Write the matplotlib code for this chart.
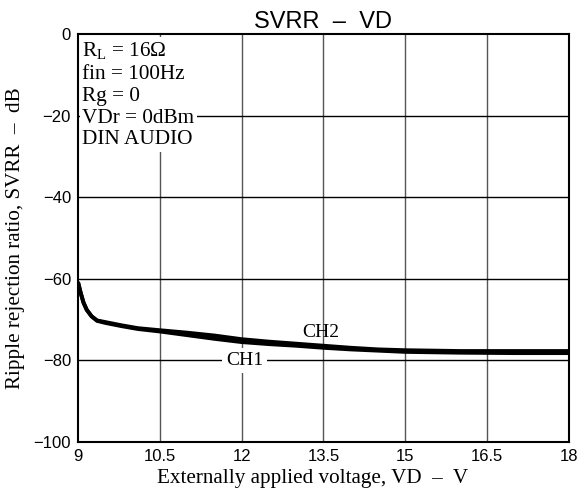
import matplotlib
matplotlib.use("Agg")
import matplotlib.pyplot as plt

# supply voltage VD (V) and ripple rejection (dB)
vd = [9.0, 9.05, 9.1, 9.16, 9.25, 9.35, 9.5, 9.8, 10.1, 10.5, 11.0, 11.5, 12.0, 12.5,
      13.0, 13.5, 14.0, 14.5, 15.0, 15.5, 16.0, 17.0, 18.0]
ch1 = [-60.8, -63.5, -65.8, -67.6, -69.2, -70.3, -70.8, -71.6, -72.3, -72.9, -73.8, -74.7,
       -75.5, -76.0, -76.4, -76.9, -77.3, -77.6, -77.9, -78.0, -78.1, -78.2, -78.2]
ch2 = [-60.8, -63.5, -65.8, -67.6, -69.2, -70.2, -70.6, -71.4, -72.1, -72.6, -73.2, -73.9,
       -74.8, -75.4, -75.9, -76.4, -76.9, -77.3, -77.5, -77.6, -77.7, -77.7, -77.7]

xticks = [9, 10.5, 12, 13.5, 15, 16.5, 18]
yticks = [0, -20, -40, -60, -80, -100]

serif = ["Liberation Serif", "DejaVu Serif"]
sans = ["Liberation Sans", "DejaVu Sans"]

fig = plt.figure(figsize=(5.8, 4.95), dpi=100)
ax = fig.add_axes([0.1345, 0.107, 0.8465, 0.8243])

ax.set_xlim(9, 18)
ax.set_ylim(-100, 0)
ax.set_xticks(xticks)
ax.set_xticklabels(["9", "10.5", "12", "13.5", "15", "16.5", "18"], family=sans, fontsize=12)
ax.set_yticks(yticks)
ax.set_yticklabels(["0", "\u221220", "\u221240", "\u221260", "\u221280", "\u2212100"],
                   family=sans, fontsize=12)
ax.tick_params(length=0, pad=5)

for x in xticks[1:-1]:
    ax.axvline(x, color="#555555", lw=1.0, zorder=1)
for y in yticks[1:-1]:
    ax.axhline(y, color="black", lw=1.0, zorder=1)

for s in ax.spines.values():
    s.set_linewidth(1.5)
    s.set_zorder(5)

ax.plot(vd, ch1, color="black", lw=2.8, zorder=3, solid_capstyle="butt")
ax.plot(vd, ch2, color="black", lw=2.8, zorder=3, solid_capstyle="butt")

ax.text(9.08, -1.6,
        "R$_\\mathregular{L}$ = 16\u03a9\nfin = 100Hz\nRg = 0\nVDr = 0dBm\nDIN AUDIO",
        family=serif, fontsize=15.3, va="top", ha="left", linespacing=1.2, zorder=4,
        bbox=dict(facecolor="white", edgecolor="none", pad=2))

ax.text(12.05, -80, "CH1", family=serif, fontsize=14, ha="center", va="center", zorder=4,
        bbox=dict(facecolor="white", edgecolor="none", pad=3))
ax.text(13.45, -73.2, "CH2", family=serif, fontsize=14, ha="center", va="center", zorder=4)

ax.set_title("SVRR  \u2013  VD", family=sans, fontsize=17, pad=4)
ax.set_xlabel("Externally applied voltage, VD  \u2013  V", family=serif, fontsize=15.2)
ax.xaxis.set_label_coords(0.477, -0.066)
ax.set_ylabel("Ripple rejection ratio, SVRR  \u2013  dB", family=serif, fontsize=15.2, labelpad=6)

fig.savefig("out.png", dpi=100)
